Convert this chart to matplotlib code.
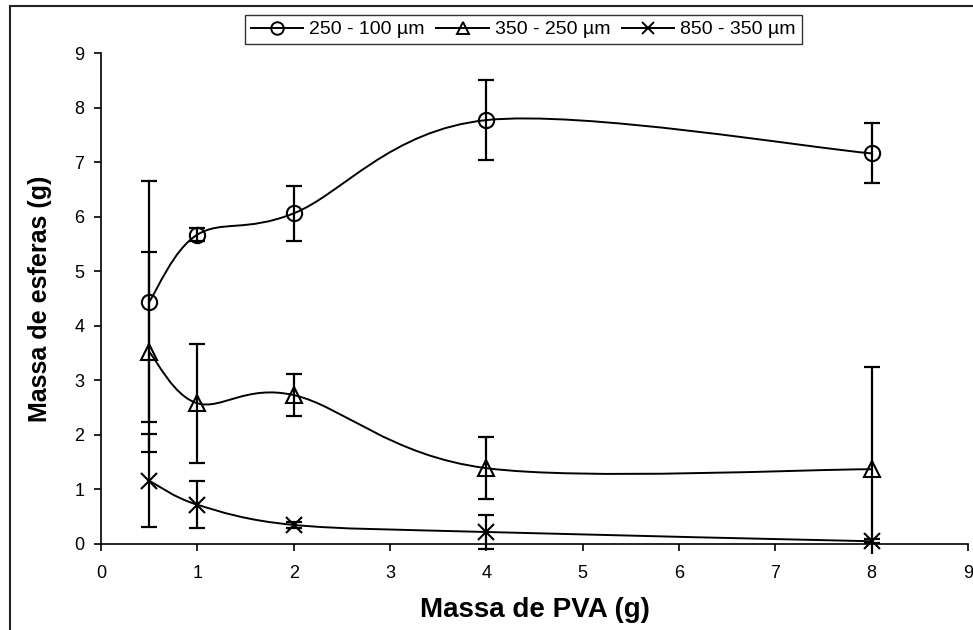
import numpy as np
import matplotlib.pyplot as plt
from matplotlib.path import Path
from matplotlib.patches import PathPatch, Rectangle
from matplotlib.lines import Line2D

plt.rcParams['font.family'] = ['Liberation Sans', 'DejaVu Sans']

# massa de PVA (g)
pva = [0.5, 1, 2, 4, 8]
series_labels = ['250 - 100 µm', '350 - 250 µm', '850 - 350 µm']
series_markers = ['o', '^', 'x']

# massa de esferas (g), one list per size range
massa_250_100 = [4.44, 5.67, 6.06, 7.77, 7.16]
massa_350_250 = [3.52, 2.58, 2.73, 1.39, 1.37]
massa_850_350 = [1.16, 0.72, 0.35, 0.22, 0.05]

# standard deviations
erro_250_100 = [2.21, 0.12, 0.50, 0.73, 0.55]
erro_350_250 = [1.84, 1.09, 0.39, 0.57, 1.88]
erro_850_350 = [0.85, 0.43, 0.06, 0.32, 0.04]

massa = [massa_250_100, massa_350_250, massa_850_350]
erro = [erro_250_100, erro_350_250, erro_850_350]


def smooth_path(x, y):
    # Excel style smoothed line: Catmull-Rom segments drawn as cubic Beziers
    pts = np.column_stack([x, y]).astype(float)
    n = len(pts)
    verts = [pts[0]]
    codes = [Path.MOVETO]
    for i in range(n - 1):
        p0 = pts[max(i - 1, 0)]
        p1 = pts[i]
        p2 = pts[i + 1]
        p3 = pts[min(i + 2, n - 1)]
        verts += [p1 + (p2 - p0) / 6, p2 - (p3 - p1) / 6, p2]
        codes += [Path.CURVE4] * 3
    return Path(verts, codes)


fig = plt.figure(figsize=(9.73, 6.3), dpi=100)
ax = fig.add_axes([101 / 973, 1 - 544 / 630, 867 / 973, 491 / 630])

# error bars are clipped a little below the x axis, like the original
clip = Rectangle((0, -0.02), 1, 1.1, transform=ax.transAxes)

handles = []
for y, e, m, lab in zip(massa, erro, series_markers, series_labels):
    ax.add_patch(PathPatch(smooth_path(pva, y), fill=False, edgecolor='black',
                           lw=1.4, zorder=2))
    eb = ax.errorbar(pva, y, yerr=e, fmt='none', ecolor='black',
                     elinewidth=1.6, capsize=6, capthick=1.6, zorder=2)
    for art in list(eb[1]) + list(eb[2]):
        art.set_clip_path(clip)
    ax.plot(pva, y, linestyle='none', marker=m, ms=11, mfc='none',
            mec='black', mew=1.5, clip_on=False, zorder=3)
    handles.append(Line2D([], [], color='black', lw=1.4, marker=m, ms=9,
                          mfc='none', mec='black', mew=1.4, label=lab))

ax.set_xlim(0, 9)
ax.set_ylim(0, 9)
ax.set_xticks(range(10))
ax.set_yticks(range(10))
for s in ['top', 'right']:
    ax.spines[s].set_visible(False)
for s in ['left', 'bottom']:
    ax.spines[s].set_linewidth(1.2)
ax.tick_params(direction='out', length=5, width=1.2, labelsize=13)
ax.tick_params(axis='x', pad=10)
ax.tick_params(axis='y', pad=7)
ax.set_xlabel('Massa de PVA (g)', fontsize=20, fontweight='bold', va='center')
ax.set_ylabel('Massa de esferas (g)', fontsize=18, fontweight='bold', va='center')
ax.xaxis.set_label_coords(0.5, (544 - 610) / 491)
ax.yaxis.set_label_coords((40 - 101) / 867, 0.5)

leg = fig.legend(handles=handles, loc='upper left', ncol=3,
                 bbox_to_anchor=(245 / 973, 1 - 15 / 630), fontsize=14,
                 frameon=True, fancybox=False, edgecolor='black',
                 handlelength=2.7, handletextpad=0.3, columnspacing=0.6,
                 borderpad=0.3, borderaxespad=0)
leg.get_frame().set_linewidth(1.0)

# outer chart border (cut off at right and bottom in the original)
fig.add_artist(Rectangle((10 / 973, -0.1), 1.2, 1 - 6 / 630 + 0.1,
                         transform=fig.transFigure, fill=False, lw=1.5,
                         edgecolor='#222222'))

fig.savefig('out.png', dpi=100)
